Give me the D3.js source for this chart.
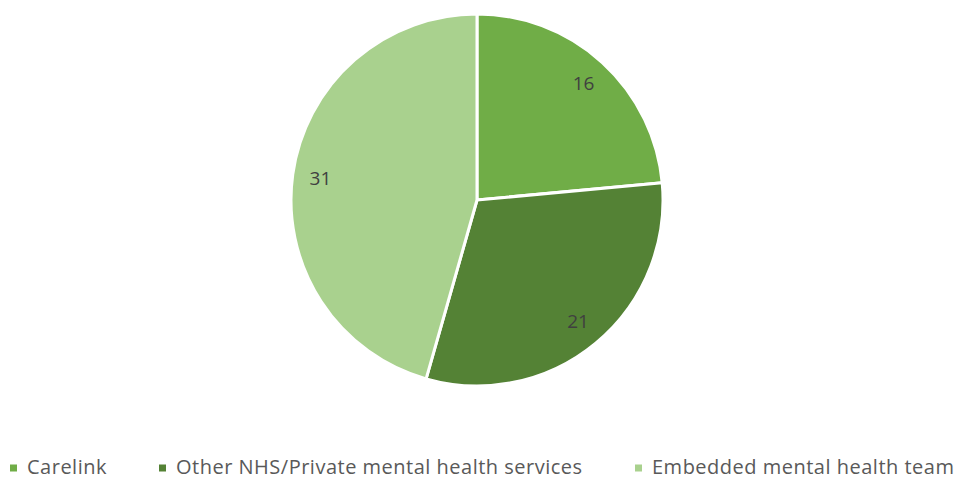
<!DOCTYPE html>
<html>
<head>
<meta charset="utf-8">
<script src="https://cdn.jsdelivr.net/npm/d3@7"></script>
<style>
  body { margin: 0; background: #fff; }
  text { font-family: "Open Sans", "Noto Sans", sans-serif; }
</style>
</head>
<body>
<div id="chart"></div>
<script>
const width = 955;
const height = 479;

// data
const categories = ["Carelink", "Other NHS/Private mental health services", "Embedded mental health team"];
const values = [16, 21, 31];
const colors = ["#70AD47", "#548235", "#A9D18E"];

const center = { x: 477, y: 200 };
const radius = 186;

const svg = d3.select("#chart").append("svg")
    .attr("width", width)
    .attr("height", height);

const data = categories.map((c, i) => ({ name: c, value: values[i], color: colors[i] }));

const pie = d3.pie().sort(null).value(d => d.value);
const arc = d3.arc().innerRadius(0).outerRadius(radius);
const labelArc = d3.arc().innerRadius(radius * 0.85).outerRadius(radius * 0.85);

const g = svg.append("g").attr("transform", `translate(${center.x},${center.y})`);

g.selectAll("path.slice")
    .data(pie(data))
    .join("path")
    .attr("class", "slice")
    .attr("d", arc)
    .attr("fill", d => d.data.color)
    .attr("stroke", "#fff")
    .attr("stroke-width", 3)
    .attr("stroke-linejoin", "round");

g.selectAll("text.label")
    .data(pie(data))
    .join("text")
    .attr("class", "label")
    .attr("transform", d => `translate(${labelArc.centroid(d)})`)
    .attr("text-anchor", "middle")
    .attr("dy", "0.35em")
    .attr("fill", "#404040")
    .attr("font-size", 19)
    .text(d => d.data.value);

// legend
const legendX = [10, 159, 635];
const legend = svg.selectAll("g.legend")
    .data(data)
    .join("g")
    .attr("class", "legend")
    .attr("transform", (d, i) => `translate(${legendX[i]},468)`);

legend.append("rect")
    .attr("x", 0)
    .attr("y", -3.5)
    .attr("width", 7)
    .attr("height", 7)
    .attr("fill", d => d.color);

legend.append("text")
    .attr("x", 17)
    .attr("dy", "0.32em")
    .attr("fill", "#595959")
    .attr("font-size", 20)
    .attr("letter-spacing", 0.5)
    .text(d => d.name);
</script>
</body>
</html>
